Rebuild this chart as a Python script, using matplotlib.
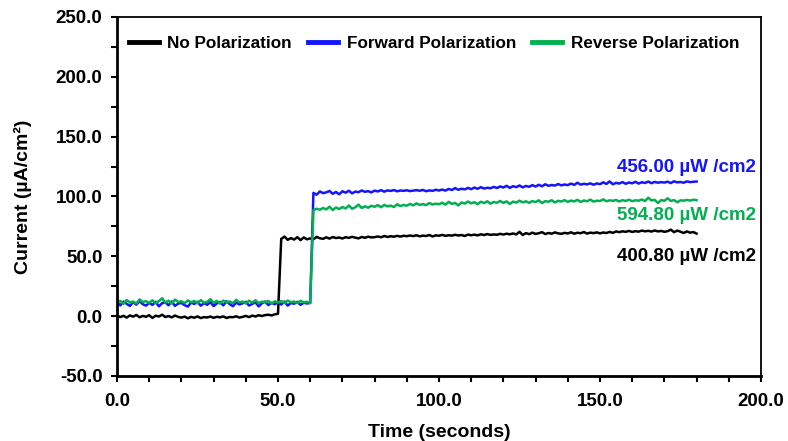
import numpy as np
import matplotlib
matplotlib.use("Agg")
import matplotlib.pyplot as plt
from matplotlib.ticker import MultipleLocator, FormatStrFormatter

plt.rcParams['font.family'] = ['Liberation Sans', 'DejaVu Sans']
plt.rcParams['font.weight'] = 'bold'

time_s = list(range(0, 181))

no_pol = [
    0.5, -0.8, 0.3, -1.2, 0.6, -0.4, 1.0, -0.9, 0.2, -0.5,
    0.8, -1.5, 0.4, -0.3, 1.2, -0.7, 0.1, -1.0, 0.5, -0.6,
    -1.2, -0.4, -1.8, -0.6, -1.3, -0.2, -1.6, -0.8, -1.1, -0.3,
    -1.4, -0.5, -1.0, -0.2, -1.5, -0.7, -0.9, -0.1, -1.2, -0.6,
    0.2, -0.8, 0.5, -0.3, 0.8, 0.1, 0.9, 1.2, 0.6, 1.5,
    2.0, 64.5, 66.5, 63.8, 65.2, 64.0, 66.0, 63.5, 65.8, 64.2,
    65.0, 64.3, 66.2, 65.1, 64.6, 65.9, 64.8, 66.1, 65.3, 65.7,
    64.9, 66.0, 65.4, 66.3, 65.6, 65.0, 66.2, 65.5, 66.4, 65.8,
    66.0, 66.6, 65.9, 67.0, 66.2, 66.8, 66.4, 67.1, 66.5, 67.2,
    66.8, 67.4, 66.9, 67.6, 66.7, 67.3, 67.0, 67.8, 66.6, 67.5,
    67.2, 67.9, 67.1, 67.6, 67.3, 68.0, 67.4, 67.8, 67.0, 68.2,
    67.6, 68.1, 67.5, 68.4, 67.8, 68.6, 67.9, 68.3, 68.0, 68.8,
    68.2, 68.9, 68.4, 69.1, 68.3, 70.5, 67.8, 69.4, 68.5, 69.8,
    68.7, 69.3, 70.2, 68.6, 69.5, 68.9, 70.0, 69.2, 68.8, 69.6,
    69.1, 70.1, 68.9, 69.7, 69.3, 70.3, 69.0, 69.8, 69.4, 70.0,
    69.2, 69.9, 69.5, 70.4, 69.6, 70.8, 70.2, 70.9, 70.5, 71.2,
    70.4, 71.0, 70.6, 71.5, 70.9, 71.3, 70.7, 71.6, 70.8, 71.2,
    70.5, 71.0, 72.3, 70.2, 71.5, 70.6, 69.5, 70.8, 69.8, 70.3, 69.0,
]

forward_pol = [
    11.5, 9.0, 12.2, 10.4, 8.5, 11.8, 9.6, 12.5, 10.0, 8.8,
    11.2, 9.4, 12.0, 8.2, 10.8, 11.6, 9.1, 12.3, 8.6, 10.5,
    11.0, 9.2, 8.0, 11.4, 10.2, 12.1, 8.7, 10.9, 9.5, 11.7,
    8.4, 10.6, 11.9, 9.0, 12.4, 10.1, 8.3, 11.3, 9.8, 10.7,
    12.0, 8.9, 10.3, 11.5, 8.1, 10.8, 12.2, 9.3, 11.1, 10.0,
    11.6, 9.7, 12.3, 8.8, 11.0, 10.4, 12.0, 9.5, 11.2, 10.6,
    11.0, 103.0, 101.5, 104.2, 102.8, 103.5, 104.6, 102.2, 103.8, 101.8,
    104.4, 103.2, 104.8, 102.6, 104.1, 103.6, 105.0, 103.9, 104.5, 103.4,
    104.9, 104.2, 105.3, 104.0, 105.1, 104.6, 105.4, 104.3, 105.0, 104.7,
    105.2, 104.5, 104.9, 105.3, 104.8, 105.5, 104.4, 105.1, 104.7, 105.6,
    105.0, 105.8, 104.9, 106.3, 105.4, 107.0, 105.6, 106.5, 105.9, 107.2,
    106.1, 107.5, 106.4, 107.8, 106.6, 107.3, 106.9, 108.0, 107.1, 108.4,
    107.5, 108.9, 107.2, 108.6, 107.8, 109.2, 107.6, 108.8, 108.1, 109.5,
    108.3, 109.8, 108.5, 110.2, 108.9, 109.6, 109.1, 110.4, 109.3, 110.0,
    109.5, 110.8, 109.7, 111.5, 109.9, 110.6, 110.1, 111.0, 109.8, 110.9,
    110.3, 111.8, 110.5, 112.6, 110.2, 111.4, 110.8, 112.0, 110.6, 111.7,
    111.0, 112.3, 110.8, 111.9, 111.3, 112.5, 111.1, 112.2, 111.5, 112.0,
    111.6, 112.4, 111.2, 112.7, 111.8, 112.1, 111.5, 112.6, 112.0, 112.3, 112.5,
]

reverse_pol = [
    11.0, 12.8, 10.2, 13.5, 11.5, 12.2, 10.6, 14.0, 11.8, 12.5,
    11.2, 13.2, 10.8, 12.6, 15.0, 11.4, 12.9, 10.5, 13.8, 11.9,
    12.4, 10.9, 13.1, 11.6, 12.7, 10.7, 13.4, 11.3, 12.0, 14.2,
    11.1, 12.8, 10.4, 13.0, 11.7, 12.3, 10.8, 13.6, 11.5, 12.2,
    10.6, 12.9, 11.3, 13.3, 10.9, 12.1, 11.6, 12.7, 10.5, 12.4,
    11.4, 12.6, 11.0, 13.0, 11.7, 12.2, 10.9, 12.8, 11.5, 12.0,
    11.0, 88.5, 89.8, 88.9, 90.4, 89.2, 91.5, 88.7, 90.8, 89.5,
    91.2, 90.0, 92.5, 89.8, 91.0, 93.2, 90.4, 91.8, 90.6, 92.2,
    91.4, 92.8, 91.0, 93.0, 91.7, 92.4, 91.2, 93.5, 92.0, 92.9,
    92.3, 93.8, 92.6, 94.2, 93.0, 93.6, 92.8, 94.5, 93.3, 94.0,
    93.5, 94.8, 93.2, 95.5, 93.8, 94.6, 92.5, 95.0, 94.1, 95.8,
    94.3, 95.2, 93.6, 95.6, 94.5, 96.0, 94.0, 95.4, 94.8, 96.3,
    94.6, 95.9, 93.8, 95.7, 94.9, 96.5, 95.1, 96.0, 94.7, 96.2,
    95.3, 96.8, 94.5, 96.1, 95.6, 96.9, 95.0, 96.4, 95.8, 97.0,
    95.5, 96.6, 95.9, 97.2, 95.4, 96.7, 96.0, 97.4, 95.7, 96.5,
    96.2, 97.6, 96.0, 96.8, 96.4, 97.1, 95.8, 96.9, 96.3, 97.3,
    96.1, 96.8, 96.5, 97.5, 96.2, 99.0, 96.7, 97.2, 94.5, 97.0,
    96.4, 98.5, 96.3, 97.0, 95.2, 96.8, 96.5, 97.1, 96.6, 97.3, 96.9,
]

series_names = ["No Polarization", "Forward Polarization", "Reverse Polarization"]
series_colors = ["#000000", "#1414ff", "#00b050"]
annot_texts = ["400.80 \u00b5W /cm2", "456.00 \u00b5W /cm2", "594.80 \u00b5W /cm2"]
annot_pos = [(198.5, 49.5), (198.5, 124.5), (198.5, 84.5)]

fig = plt.figure(figsize=(7.88, 4.41), dpi=100)
ax = fig.add_axes([0.1485, 0.1474, 0.8172, 0.8141])

for vals, name, col in zip([no_pol, forward_pol, reverse_pol], series_names, series_colors):
    ax.plot(time_s, vals, color=col, lw=1.8, label=name)

for txt, (xx, yy), col in zip(annot_texts, annot_pos, series_colors):
    ax.text(xx, yy, txt, color=col, fontsize=13.5, fontweight='bold', ha='right', va='center')

ax.set_xlim(0, 200)
ax.set_ylim(-50, 250)
ax.xaxis.set_major_locator(MultipleLocator(50))
ax.xaxis.set_minor_locator(MultipleLocator(10))
ax.yaxis.set_major_locator(MultipleLocator(50))
ax.yaxis.set_minor_locator(MultipleLocator(25))
ax.xaxis.set_major_formatter(FormatStrFormatter('%.1f'))
ax.yaxis.set_major_formatter(FormatStrFormatter('%.1f'))
ax.tick_params(which='both', direction='out', length=4.5, width=1.5, top=False, right=False,
               labelsize=13.5)
ax.tick_params(axis='x', pad=8)
ax.tick_params(axis='y', pad=6)
for lab in ax.get_xticklabels() + ax.get_yticklabels():
    lab.set_fontweight('bold')
for s in ['left', 'bottom']:
    ax.spines[s].set_linewidth(2.0)
for s in ['top', 'right']:
    ax.spines[s].set_linewidth(1.3)

ax.set_xlabel("Time (seconds)", fontsize=14, fontweight='bold', labelpad=10)
ax.set_ylabel("Current (\u00b5A/cm\u00b2)", fontsize=14, fontweight='bold', labelpad=17)

leg = ax.legend(loc='upper left', bbox_to_anchor=(0.0, 0.98), ncol=3, frameon=False,
                fontsize=12.3, handlelength=1.75, handletextpad=0.5, columnspacing=0.95,
                borderaxespad=0.3)
for t in leg.get_texts():
    t.set_fontweight('bold')
for l in leg.get_lines():
    l.set_linewidth(3.5)

fig.savefig("out.png", dpi=100)
